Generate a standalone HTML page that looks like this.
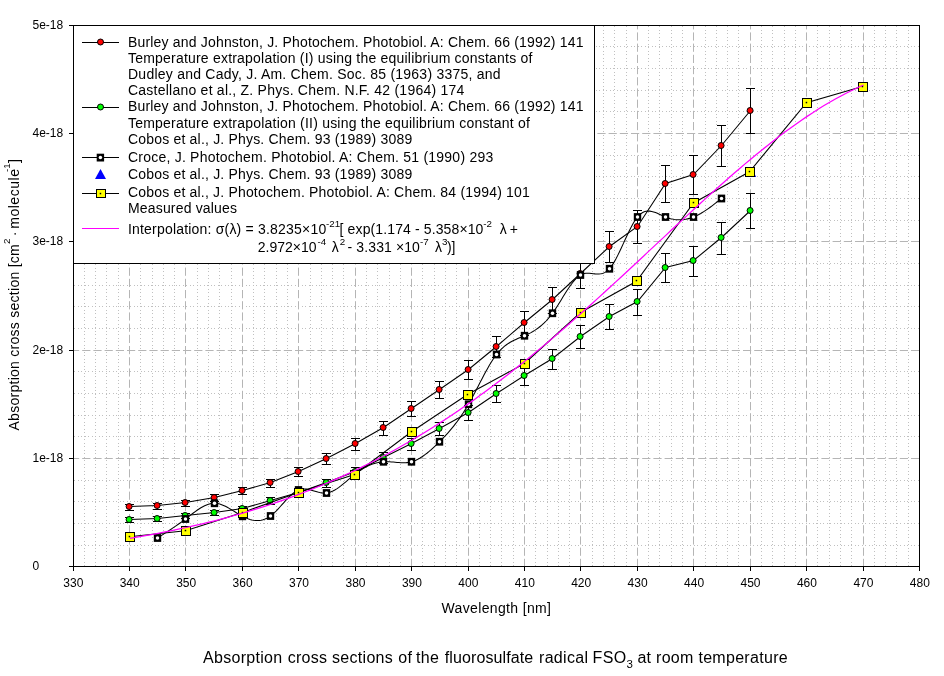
<!DOCTYPE html>
<html lang="en"><head><meta charset="utf-8"><title>Absorption cross sections of the fluorosulfate radical FSO3</title>
<style>html,body{margin:0;padding:0;background:#fff}body{width:944px;height:676px;overflow:hidden}svg{display:block}</style>
</head><body>
<svg width="944" height="676" viewBox="0 0 944 676" font-family="'Liberation Sans', Arial, sans-serif" fill="#000">
<rect width="944" height="676" fill="#fff"/>
<g fill="none" stroke-width="1">
<path d="M84.5 26V566M95.5 26V566M106.5 26V566M118.5 26V566M140.5 26V566M152.5 26V566M163.5 26V566M174.5 26V566M197.5 26V566M208.5 26V566M219.5 26V566M231.5 26V566M253.5 26V566M264.5 26V566M276.5 26V566M287.5 26V566M310.5 26V566M321.5 26V566M332.5 26V566M343.5 26V566M366.5 26V566M377.5 26V566M389.5 26V566M400.5 26V566M422.5 26V566M434.5 26V566M445.5 26V566M456.5 26V566M479.5 26V566M490.5 26V566M501.5 26V566M513.5 26V566M535.5 26V566M547.5 26V566M558.5 26V566M569.5 26V566M592.5 26V566M603.5 26V566M614.5 26V566M626.5 26V566M648.5 26V566M659.5 26V566M671.5 26V566M682.5 26V566M705.5 26V566M716.5 26V566M727.5 26V566M738.5 26V566M761.5 26V566M772.5 26V566M784.5 26V566M795.5 26V566M817.5 26V566M829.5 26V566M840.5 26V566M851.5 26V566M874.5 26V566M885.5 26V566M896.5 26V566M908.5 26V566" stroke="#c0c0c0" stroke-dasharray="1 2 1 3" stroke-dashoffset="3"/>
<path d="M74 545.5H919M74 523.5H919M74 501.5H919M74 480.5H919M74 436.5H919M74 415.5H919M74 393.5H919M74 371.5H919M74 328.5H919M74 306.5H919M74 285.5H919M74 263.5H919M74 220.5H919M74 198.5H919M74 176.5H919M74 155.5H919M74 111.5H919M74 90.5H919M74 68.5H919M74 46.5H919" stroke="#c0c0c0" stroke-dasharray="1 2 1 3" stroke-dashoffset="3"/>
<path d="M129.5 26V566M185.5 26V566M242.5 26V566M298.5 26V566M355.5 26V566M411.5 26V566M468.5 26V566M524.5 26V566M580.5 26V566M637.5 26V566M693.5 26V566M750.5 26V566M806.5 26V566M863.5 26V566" stroke="#b5b5b5" stroke-dasharray="8.2 3" stroke-dashoffset="4.8"/>
<path d="M74 458.5H919M74 350.5H919M74 241.5H919M74 133.5H919" stroke="#b5b5b5" stroke-dasharray="8.2 3" stroke-dashoffset="3"/>
</g>
<g>
<polyline points="129.50,506.50 157.50,505.50 185.50,502.50 214.50,497.50 242.50,490.50 270.50,482.50 298.50,471.50 326.50,458.50 355.50,443.50 383.50,427.50 411.50,408.50 439.50,389.50 468.50,369.50 496.50,346.50 524.50,322.50 552.50,299.50 580.50,273.50 609.50,246.50 637.50,226.50 665.50,183.50 693.50,174.50 721.50,145.50 750.50,110.50" fill="none" stroke="#000" stroke-width="1.05"/>
<path d="M129.5 504.5V510.5M125.0 504.5H134.0M125.0 510.5H134.0M157.5 503.5V509.5M153.0 503.5H162.0M153.0 509.5H162.0M185.5 500.5V506.5M181.0 500.5H190.0M181.0 506.5H190.0M214.5 494.5V501.5M210.0 494.5H219.0M210.0 501.5H219.0M242.5 487.5V494.5M238.0 487.5H247.0M238.0 494.5H247.0M270.5 479.5V487.5M266.0 479.5H275.0M266.0 487.5H275.0M298.5 467.5V476.5M294.0 467.5H303.0M294.0 476.5H303.0M326.5 453.5V464.5M322.0 453.5H331.0M322.0 464.5H331.0M355.5 438.5V450.5M351.0 438.5H360.0M351.0 450.5H360.0M383.5 421.5V435.5M379.0 421.5H388.0M379.0 435.5H388.0M411.5 401.5V416.5M407.0 401.5H416.0M407.0 416.5H416.0M439.5 381.5V398.5M435.0 381.5H444.0M435.0 398.5H444.0M468.5 360.5V379.5M464.0 360.5H473.0M464.0 379.5H473.0M496.5 336.5V357.5M492.0 336.5H501.0M492.0 357.5H501.0M524.5 311.5V335.5M520.0 311.5H529.0M520.0 335.5H529.0M552.5 287.5V313.5M548.0 287.5H557.0M548.0 313.5H557.0M580.5 259.5V288.5M576.0 259.5H585.0M576.0 288.5H585.0M609.5 231.5V262.5M605.0 231.5H614.0M605.0 262.5H614.0M637.5 210.5V243.5M633.0 210.5H642.0M633.0 243.5H642.0M665.5 165.5V202.5M661.0 165.5H670.0M661.0 202.5H670.0M693.5 155.5V194.5M689.0 155.5H698.0M689.0 194.5H698.0M721.5 125.5V166.5M717.0 125.5H726.0M717.0 166.5H726.0M750.5 88.5V133.5M746.0 88.5H755.0M746.0 133.5H755.0" fill="none" stroke="#000" stroke-width="1" shape-rendering="crispEdges"/>
<circle cx="129.1" cy="506.5" r="3" fill="#ff0000" stroke="#000" stroke-width="1"/>
<circle cx="157.1" cy="505.5" r="3" fill="#ff0000" stroke="#000" stroke-width="1"/>
<circle cx="185.1" cy="502.5" r="3" fill="#ff0000" stroke="#000" stroke-width="1"/>
<circle cx="214.1" cy="497.5" r="3" fill="#ff0000" stroke="#000" stroke-width="1"/>
<circle cx="242.1" cy="490.5" r="3" fill="#ff0000" stroke="#000" stroke-width="1"/>
<circle cx="270.1" cy="482.5" r="3" fill="#ff0000" stroke="#000" stroke-width="1"/>
<circle cx="298.1" cy="471.5" r="3" fill="#ff0000" stroke="#000" stroke-width="1"/>
<circle cx="326.1" cy="458.5" r="3" fill="#ff0000" stroke="#000" stroke-width="1"/>
<circle cx="355.1" cy="443.5" r="3" fill="#ff0000" stroke="#000" stroke-width="1"/>
<circle cx="383.1" cy="427.5" r="3" fill="#ff0000" stroke="#000" stroke-width="1"/>
<circle cx="411.1" cy="408.5" r="3" fill="#ff0000" stroke="#000" stroke-width="1"/>
<circle cx="439.1" cy="389.5" r="3" fill="#ff0000" stroke="#000" stroke-width="1"/>
<circle cx="468.1" cy="369.5" r="3" fill="#ff0000" stroke="#000" stroke-width="1"/>
<circle cx="496.1" cy="346.5" r="3" fill="#ff0000" stroke="#000" stroke-width="1"/>
<circle cx="524.1" cy="322.5" r="3" fill="#ff0000" stroke="#000" stroke-width="1"/>
<circle cx="552.1" cy="299.5" r="3" fill="#ff0000" stroke="#000" stroke-width="1"/>
<circle cx="580.1" cy="273.5" r="3" fill="#ff0000" stroke="#000" stroke-width="1"/>
<circle cx="609.1" cy="246.5" r="3" fill="#ff0000" stroke="#000" stroke-width="1"/>
<circle cx="637.1" cy="226.5" r="3" fill="#ff0000" stroke="#000" stroke-width="1"/>
<circle cx="665.1" cy="183.5" r="3" fill="#ff0000" stroke="#000" stroke-width="1"/>
<circle cx="693.1" cy="174.5" r="3" fill="#ff0000" stroke="#000" stroke-width="1"/>
<circle cx="721.1" cy="145.5" r="3" fill="#ff0000" stroke="#000" stroke-width="1"/>
<circle cx="750.1" cy="110.5" r="3" fill="#ff0000" stroke="#000" stroke-width="1"/>
</g>
<g>
<polyline points="129.50,519.50 157.50,518.50 185.50,515.50 214.50,512.50 242.50,508.50 270.50,500.50 298.50,492.50 326.50,482.50 355.50,471.50 383.50,457.50 411.50,443.50 439.50,428.50 468.50,412.50 496.50,393.50 524.50,375.50 552.50,358.50 580.50,336.50 609.50,316.50 637.50,301.50 665.50,267.50 693.50,260.50 721.50,237.50 750.50,210.50" fill="none" stroke="#000" stroke-width="1.05"/>
<path d="M129.5 517.5V522.5M125.0 517.5H134.0M125.0 522.5H134.0M157.5 516.5V521.5M153.0 516.5H162.0M153.0 521.5H162.0M185.5 513.5V518.5M181.0 513.5H190.0M181.0 518.5H190.0M214.5 510.5V515.5M210.0 510.5H219.0M210.0 515.5H219.0M242.5 506.5V512.5M238.0 506.5H247.0M238.0 512.5H247.0M270.5 497.5V504.5M266.0 497.5H275.0M266.0 504.5H275.0M298.5 489.5V496.5M294.0 489.5H303.0M294.0 496.5H303.0M326.5 479.5V487.5M322.0 479.5H331.0M322.0 487.5H331.0M355.5 467.5V476.5M351.0 467.5H360.0M351.0 476.5H360.0M383.5 452.5V463.5M379.0 452.5H388.0M379.0 463.5H388.0M411.5 438.5V450.5M407.0 438.5H416.0M407.0 450.5H416.0M439.5 422.5V435.5M435.0 422.5H444.0M435.0 435.5H444.0M468.5 405.5V420.5M464.0 405.5H473.0M464.0 420.5H473.0M496.5 385.5V402.5M492.0 385.5H501.0M492.0 402.5H501.0M524.5 366.5V385.5M520.0 366.5H529.0M520.0 385.5H529.0M552.5 349.5V369.5M548.0 349.5H557.0M548.0 369.5H557.0M580.5 325.5V348.5M576.0 325.5H585.0M576.0 348.5H585.0M609.5 304.5V329.5M605.0 304.5H614.0M605.0 329.5H614.0M637.5 289.5V315.5M633.0 289.5H642.0M633.0 315.5H642.0M665.5 253.5V282.5M661.0 253.5H670.0M661.0 282.5H670.0M693.5 246.5V276.5M689.0 246.5H698.0M689.0 276.5H698.0M721.5 222.5V254.5M717.0 222.5H726.0M717.0 254.5H726.0M750.5 193.5V228.5M746.0 193.5H755.0M746.0 228.5H755.0" fill="none" stroke="#000" stroke-width="1" shape-rendering="crispEdges"/>
<circle cx="129.1" cy="519.5" r="3" fill="#00ff00" stroke="#000" stroke-width="1"/>
<circle cx="157.1" cy="518.5" r="3" fill="#00ff00" stroke="#000" stroke-width="1"/>
<circle cx="185.1" cy="515.5" r="3" fill="#00ff00" stroke="#000" stroke-width="1"/>
<circle cx="214.1" cy="512.5" r="3" fill="#00ff00" stroke="#000" stroke-width="1"/>
<circle cx="242.1" cy="508.5" r="3" fill="#00ff00" stroke="#000" stroke-width="1"/>
<circle cx="270.1" cy="500.5" r="3" fill="#00ff00" stroke="#000" stroke-width="1"/>
<circle cx="298.1" cy="492.5" r="3" fill="#00ff00" stroke="#000" stroke-width="1"/>
<circle cx="326.1" cy="482.5" r="3" fill="#00ff00" stroke="#000" stroke-width="1"/>
<circle cx="355.1" cy="471.5" r="3" fill="#00ff00" stroke="#000" stroke-width="1"/>
<circle cx="383.1" cy="457.5" r="3" fill="#00ff00" stroke="#000" stroke-width="1"/>
<circle cx="411.1" cy="443.5" r="3" fill="#00ff00" stroke="#000" stroke-width="1"/>
<circle cx="439.1" cy="428.5" r="3" fill="#00ff00" stroke="#000" stroke-width="1"/>
<circle cx="468.1" cy="412.5" r="3" fill="#00ff00" stroke="#000" stroke-width="1"/>
<circle cx="496.1" cy="393.5" r="3" fill="#00ff00" stroke="#000" stroke-width="1"/>
<circle cx="524.1" cy="375.5" r="3" fill="#00ff00" stroke="#000" stroke-width="1"/>
<circle cx="552.1" cy="358.5" r="3" fill="#00ff00" stroke="#000" stroke-width="1"/>
<circle cx="580.1" cy="336.5" r="3" fill="#00ff00" stroke="#000" stroke-width="1"/>
<circle cx="609.1" cy="316.5" r="3" fill="#00ff00" stroke="#000" stroke-width="1"/>
<circle cx="637.1" cy="301.5" r="3" fill="#00ff00" stroke="#000" stroke-width="1"/>
<circle cx="665.1" cy="267.5" r="3" fill="#00ff00" stroke="#000" stroke-width="1"/>
<circle cx="693.1" cy="260.5" r="3" fill="#00ff00" stroke="#000" stroke-width="1"/>
<circle cx="721.1" cy="237.5" r="3" fill="#00ff00" stroke="#000" stroke-width="1"/>
<circle cx="750.1" cy="210.5" r="3" fill="#00ff00" stroke="#000" stroke-width="1"/>
</g>
<g>
<polyline points="157.50,538.00 159.39,536.79 161.27,535.59 163.16,534.37 165.05,533.16 166.93,531.93 168.82,530.69 170.70,529.45 172.59,528.18 174.48,526.90 176.36,525.61 178.25,524.29 180.14,522.95 182.02,521.59 183.91,520.20 185.79,518.78 187.68,517.33 189.57,515.88 191.45,514.42 193.34,512.99 195.23,511.60 197.11,510.26 199.00,508.99 200.88,507.80 202.77,506.72 204.66,505.75 206.54,504.92 208.43,504.24 210.32,503.72 212.20,503.39 214.09,503.25 215.97,503.33 217.86,503.61 219.75,504.06 221.63,504.69 223.52,505.45 225.41,506.33 227.29,507.31 229.18,508.36 231.07,509.48 232.95,510.63 234.84,511.80 236.72,512.97 238.61,514.11 240.50,515.21 242.38,516.24 244.27,517.19 246.16,518.04 248.04,518.78 249.93,519.41 251.81,519.91 253.70,520.28 255.59,520.50 257.47,520.56 259.36,520.47 261.25,520.19 263.13,519.74 265.02,519.08 266.90,518.23 268.79,517.16 270.68,515.87 272.56,514.35 274.45,512.65 276.34,510.79 278.22,508.81 280.11,506.75 281.99,504.64 283.88,502.53 285.77,500.45 287.65,498.44 289.54,496.52 291.43,494.75 293.31,493.16 295.20,491.78 297.09,490.66 298.97,489.82 300.86,489.28 302.74,489.02 304.63,488.98 306.52,489.14 308.40,489.45 310.29,489.88 312.18,490.40 314.06,490.95 315.95,491.51 317.83,492.04 319.72,492.50 321.61,492.86 323.49,493.06 325.38,493.09 327.27,492.89 329.15,492.47 331.04,491.82 332.92,490.99 334.81,489.99 336.70,488.84 338.58,487.56 340.47,486.17 342.36,484.69 344.24,483.15 346.13,481.56 348.02,479.95 349.90,478.34 351.79,476.75 353.67,475.20 355.56,473.70 357.45,472.29 359.33,470.96 361.22,469.71 363.11,468.55 364.99,467.47 366.88,466.49 368.76,465.59 370.65,464.78 372.54,464.06 374.42,463.43 376.31,462.90 378.20,462.46 380.08,462.12 381.97,461.88 383.85,461.73 385.74,461.68 387.63,461.71 389.51,461.80 391.40,461.93 393.29,462.10 395.17,462.27 397.06,462.44 398.94,462.59 400.83,462.70 402.72,462.75 404.60,462.73 406.49,462.62 408.38,462.40 410.26,462.05 412.15,461.57 414.04,460.93 415.92,460.16 417.81,459.25 419.69,458.21 421.58,457.06 423.47,455.79 425.35,454.43 427.24,452.97 429.13,451.43 431.01,449.80 432.90,448.11 434.78,446.36 436.67,444.55 438.56,442.69 440.44,440.80 442.33,438.87 444.22,436.89 446.10,434.86 447.99,432.78 449.87,430.62 451.76,428.40 453.65,426.09 455.53,423.69 457.42,421.20 459.31,418.60 461.19,415.90 463.08,413.08 464.96,410.13 466.85,407.05 468.74,403.84 470.62,400.48 472.51,397.01 474.40,393.46 476.28,389.84 478.17,386.19 480.06,382.53 481.94,378.90 483.83,375.31 485.71,371.80 487.60,368.39 489.49,365.11 491.37,361.98 493.26,359.04 495.15,356.31 497.03,353.82 498.92,351.58 500.80,349.57 502.69,347.77 504.58,346.16 506.46,344.73 508.35,343.44 510.24,342.29 512.12,341.25 514.01,340.30 515.89,339.42 517.78,338.59 519.67,337.79 521.55,337.01 523.44,336.21 525.33,335.38 527.21,334.51 529.10,333.59 530.98,332.59 532.87,331.52 534.76,330.37 536.64,329.11 538.53,327.75 540.42,326.27 542.30,324.66 544.19,322.90 546.08,321.00 547.96,318.94 549.85,316.70 551.73,314.29 553.62,311.68 555.51,308.90 557.39,305.98 559.28,302.98 561.17,299.92 563.05,296.85 564.94,293.81 566.82,290.83 568.71,287.96 570.60,285.25 572.48,282.72 574.37,280.41 576.26,278.38 578.14,276.66 580.03,275.28 581.91,274.29 583.80,273.65 585.69,273.31 587.57,273.20 589.46,273.26 591.35,273.43 593.23,273.65 595.12,273.86 597.01,274.00 598.89,274.01 600.78,273.83 602.66,273.39 604.55,272.65 606.44,271.52 608.32,269.97 610.21,267.92 612.10,265.37 613.98,262.38 615.87,259.03 617.75,255.38 619.64,251.51 621.53,247.48 623.41,243.36 625.30,239.24 627.19,235.17 629.07,231.22 630.96,227.48 632.84,224.00 634.73,220.85 636.62,218.12 638.50,215.86 640.39,214.09 642.28,212.77 644.16,211.85 646.05,211.30 647.93,211.07 649.82,211.12 651.71,211.42 653.59,211.91 655.48,212.57 657.37,213.34 659.25,214.18 661.14,215.06 663.03,215.93 664.91,216.76 666.80,217.50 668.68,218.13 670.57,218.66 672.46,219.09 674.34,219.42 676.23,219.65 678.12,219.77 680.00,219.79 681.89,219.71 683.77,219.53 685.66,219.25 687.55,218.87 689.43,218.38 691.32,217.80 693.21,217.12 695.09,216.33 696.98,215.45 698.86,214.49 700.75,213.44 702.64,212.32 704.52,211.13 706.41,209.88 708.30,208.57 710.18,207.22 712.07,205.83 713.95,204.41 715.84,202.95 717.73,201.48 719.61,199.99 721.50,198.50" fill="none" stroke="#000" stroke-width="1.05"/>
<rect x="153.80" y="534.10" width="7.4" height="7.8" fill="#000"/><circle cx="157.50" cy="538.00" r="1.75" fill="#fff"/>
<rect x="181.80" y="515.10" width="7.4" height="7.8" fill="#000"/><circle cx="185.50" cy="519.00" r="1.75" fill="#fff"/>
<rect x="210.80" y="499.35" width="7.4" height="7.8" fill="#000"/><circle cx="214.50" cy="503.25" r="1.75" fill="#fff"/>
<rect x="238.80" y="512.40" width="7.4" height="7.8" fill="#000"/><circle cx="242.50" cy="516.30" r="1.75" fill="#fff"/>
<rect x="266.80" y="512.10" width="7.4" height="7.8" fill="#000"/><circle cx="270.50" cy="516.00" r="1.75" fill="#fff"/>
<rect x="294.80" y="486.10" width="7.4" height="7.8" fill="#000"/><circle cx="298.50" cy="490.00" r="1.75" fill="#fff"/>
<rect x="322.80" y="489.10" width="7.4" height="7.8" fill="#000"/><circle cx="326.50" cy="493.00" r="1.75" fill="#fff"/>
<rect x="351.80" y="469.85" width="7.4" height="7.8" fill="#000"/><circle cx="355.50" cy="473.75" r="1.75" fill="#fff"/>
<rect x="379.80" y="457.85" width="7.4" height="7.8" fill="#000"/><circle cx="383.50" cy="461.75" r="1.75" fill="#fff"/>
<rect x="407.80" y="457.85" width="7.4" height="7.8" fill="#000"/><circle cx="411.50" cy="461.75" r="1.75" fill="#fff"/>
<rect x="435.80" y="437.85" width="7.4" height="7.8" fill="#000"/><circle cx="439.50" cy="441.75" r="1.75" fill="#fff"/>
<rect x="464.80" y="400.35" width="7.4" height="7.8" fill="#000"/><circle cx="468.50" cy="404.25" r="1.75" fill="#fff"/>
<rect x="492.80" y="350.60" width="7.4" height="7.8" fill="#000"/><circle cx="496.50" cy="354.50" r="1.75" fill="#fff"/>
<rect x="520.80" y="331.85" width="7.4" height="7.8" fill="#000"/><circle cx="524.50" cy="335.75" r="1.75" fill="#fff"/>
<rect x="548.80" y="309.35" width="7.4" height="7.8" fill="#000"/><circle cx="552.50" cy="313.25" r="1.75" fill="#fff"/>
<rect x="576.80" y="271.10" width="7.4" height="7.8" fill="#000"/><circle cx="580.50" cy="275.00" r="1.75" fill="#fff"/>
<rect x="605.80" y="264.85" width="7.4" height="7.8" fill="#000"/><circle cx="609.50" cy="268.75" r="1.75" fill="#fff"/>
<rect x="633.80" y="213.10" width="7.4" height="7.8" fill="#000"/><circle cx="637.50" cy="217.00" r="1.75" fill="#fff"/>
<rect x="661.80" y="213.10" width="7.4" height="7.8" fill="#000"/><circle cx="665.50" cy="217.00" r="1.75" fill="#fff"/>
<rect x="689.80" y="213.10" width="7.4" height="7.8" fill="#000"/><circle cx="693.50" cy="217.00" r="1.75" fill="#fff"/>
<rect x="717.80" y="194.60" width="7.4" height="7.8" fill="#000"/><circle cx="721.50" cy="198.50" r="1.75" fill="#fff"/>
</g>
<path d="M750.7 167.0L756.2 177.0H745.2Z" fill="#0000ff"/>
<g>
<polyline points="129.50,536.75 185.50,530.75 242.50,512.50 298.50,492.50 354.50,474.50 411.50,431.75 467.50,394.50 524.50,363.50 580.50,312.50 636.50,281.25 693.50,203.00 749.50,171.75 806.50,102.75 862.50,86.50" fill="none" stroke="#000" stroke-width="1.05"/>
<rect x="125" y="532" width="10" height="10" fill="#000"/><rect x="126" y="533" width="8" height="8" fill="#ffff00"/><rect x="128.7" y="535.8" width="1.5" height="1.5" fill="#000"/>
<rect x="181" y="526" width="10" height="10" fill="#000"/><rect x="182" y="527" width="8" height="8" fill="#ffff00"/><rect x="184.7" y="529.8" width="1.5" height="1.5" fill="#000"/>
<rect x="238" y="508" width="10" height="10" fill="#000"/><rect x="239" y="509" width="8" height="8" fill="#ffff00"/><rect x="241.7" y="511.8" width="1.5" height="1.5" fill="#000"/>
<rect x="294" y="488" width="10" height="10" fill="#000"/><rect x="295" y="489" width="8" height="8" fill="#ffff00"/><rect x="297.7" y="491.8" width="1.5" height="1.5" fill="#000"/>
<rect x="350" y="470" width="10" height="10" fill="#000"/><rect x="351" y="471" width="8" height="8" fill="#ffff00"/><rect x="353.7" y="473.8" width="1.5" height="1.5" fill="#000"/>
<rect x="407" y="427" width="10" height="10" fill="#000"/><rect x="408" y="428" width="8" height="8" fill="#ffff00"/><rect x="410.7" y="430.8" width="1.5" height="1.5" fill="#000"/>
<rect x="463" y="390" width="10" height="10" fill="#000"/><rect x="464" y="391" width="8" height="8" fill="#ffff00"/><rect x="466.7" y="393.8" width="1.5" height="1.5" fill="#000"/>
<rect x="520" y="359" width="10" height="10" fill="#000"/><rect x="521" y="360" width="8" height="8" fill="#ffff00"/><rect x="523.7" y="362.8" width="1.5" height="1.5" fill="#000"/>
<rect x="576" y="308" width="10" height="10" fill="#000"/><rect x="577" y="309" width="8" height="8" fill="#ffff00"/><rect x="579.7" y="311.8" width="1.5" height="1.5" fill="#000"/>
<rect x="632" y="276" width="10" height="10" fill="#000"/><rect x="633" y="277" width="8" height="8" fill="#ffff00"/><rect x="635.7" y="279.8" width="1.5" height="1.5" fill="#000"/>
<rect x="689" y="198" width="10" height="10" fill="#000"/><rect x="690" y="199" width="8" height="8" fill="#ffff00"/><rect x="692.7" y="201.8" width="1.5" height="1.5" fill="#000"/>
<rect x="745" y="167" width="10" height="10" fill="#000"/><rect x="746" y="168" width="8" height="8" fill="#ffff00"/><rect x="748.7" y="170.8" width="1.5" height="1.5" fill="#000"/>
<rect x="802" y="98" width="10" height="10" fill="#000"/><rect x="803" y="99" width="8" height="8" fill="#ffff00"/><rect x="805.7" y="101.8" width="1.5" height="1.5" fill="#000"/>
<rect x="858" y="82" width="10" height="10" fill="#000"/><rect x="859" y="83" width="8" height="8" fill="#ffff00"/><rect x="861.7" y="85.8" width="1.5" height="1.5" fill="#000"/>
</g>
<polyline points="129.93,538.33 135.58,537.38 141.22,536.41 146.86,535.41 152.51,534.37 158.15,533.31 163.79,532.21 169.44,531.09 175.08,529.92 180.72,528.73 186.37,527.49 192.01,526.23 197.65,524.92 203.30,523.58 208.94,522.20 214.58,520.78 220.23,519.32 225.87,517.82 231.51,516.27 237.16,514.69 242.80,513.06 248.44,511.38 254.09,509.67 259.73,507.90 265.37,506.09 271.02,504.23 276.66,502.32 282.30,500.37 287.95,498.36 293.59,496.30 299.23,494.19 304.88,492.03 310.52,489.81 316.16,487.54 321.81,485.22 327.45,482.83 333.09,480.40 338.74,477.90 344.38,475.35 350.02,472.74 355.67,470.07 361.31,467.34 366.95,464.55 372.60,461.70 378.24,458.79 383.88,455.82 389.53,452.78 395.17,449.68 400.81,446.52 406.46,443.30 412.10,440.01 417.74,436.66 423.39,433.24 429.03,429.77 434.67,426.22 440.32,422.62 445.96,418.94 451.60,415.21 457.25,411.41 462.89,407.55 468.53,403.62 474.18,399.64 479.82,395.59 485.46,391.47 491.11,387.30 496.75,383.07 502.39,378.77 508.04,374.42 513.68,370.01 519.32,365.55 524.97,361.02 530.61,356.45 536.25,351.82 541.90,347.14 547.54,342.40 553.18,337.62 558.83,332.80 564.47,327.92 570.11,323.01 575.76,318.05 581.40,313.05 587.04,308.02 592.69,302.95 598.33,297.85 603.97,292.71 609.62,287.56 615.26,282.37 620.90,277.17 626.55,271.94 632.19,266.70 637.83,261.45 643.48,256.18 649.12,250.91 654.76,245.64 660.41,240.36 666.05,235.09 671.69,229.83 677.34,224.58 682.98,219.34 688.62,214.13 694.27,208.93 699.91,203.77 705.55,198.63 711.20,193.53 716.84,188.46 722.48,183.45 728.13,178.48 733.77,173.56 739.41,168.69 745.06,163.89 750.70,159.16 756.34,154.49 761.99,149.90 767.63,145.39 773.27,140.96 778.92,136.62 784.56,132.37 790.20,128.22 795.85,124.17 801.49,120.22 807.13,116.39 812.78,112.67 818.42,109.07 824.06,105.59 829.71,102.24 835.35,99.02 840.99,95.94 846.64,93.00 852.28,90.19 857.92,87.54 863.57,85.04" fill="none" stroke="#ff00ff" stroke-width="1.25"/>
<rect x="73.5" y="25.5" width="521" height="238" fill="#fff" stroke="#000" stroke-width="1"/>
<g fill="none" stroke="#000" stroke-width="1" shape-rendering="crispEdges">
<path d="M73.5 25.5H919.5V566.5H73.5Z"/>
<path d="M69 566.5H73.5M69 458.5H73.5M69 350.5H73.5M69 241.5H73.5M69 133.5H73.5M69 25.5H73.5M73.5 566.5V571M129.5 566.5V571M185.5 566.5V571M242.5 566.5V571M298.5 566.5V571M355.5 566.5V571M411.5 566.5V571M468.5 566.5V571M524.5 566.5V571M580.5 566.5V571M637.5 566.5V571M693.5 566.5V571M750.5 566.5V571M806.5 566.5V571M863.5 566.5V571M919.5 566.5V571"/>
</g>
<g font-size="12px">
<text x="32.5" y="570.0">0</text>
<text x="32.5" y="461.8">1e-18</text>
<text x="32.5" y="353.6">2e-18</text>
<text x="32.5" y="245.4">3e-18</text>
<text x="32.5" y="137.2">4e-18</text>
<text x="32.5" y="29.0">5e-18</text>
<text x="73.3" y="587" text-anchor="middle">330</text>
<text x="129.7" y="587" text-anchor="middle">340</text>
<text x="186.2" y="587" text-anchor="middle">350</text>
<text x="242.6" y="587" text-anchor="middle">360</text>
<text x="299.0" y="587" text-anchor="middle">370</text>
<text x="355.5" y="587" text-anchor="middle">380</text>
<text x="411.9" y="587" text-anchor="middle">390</text>
<text x="468.3" y="587" text-anchor="middle">400</text>
<text x="524.8" y="587" text-anchor="middle">410</text>
<text x="581.2" y="587" text-anchor="middle">420</text>
<text x="637.6" y="587" text-anchor="middle">430</text>
<text x="694.1" y="587" text-anchor="middle">440</text>
<text x="750.5" y="587" text-anchor="middle">450</text>
<text x="806.9" y="587" text-anchor="middle">460</text>
<text x="863.4" y="587" text-anchor="middle">470</text>
<text x="919.8" y="587" text-anchor="middle">480</text>
</g>
<g shape-rendering="crispEdges" stroke="#000" stroke-width="1" fill="none">
<path d="M82 42.5H119M82 107.5H119M82 157.5H119M82 193.5H119"/>
<path d="M82 228.5H119" stroke="#ff00ff"/>
</g>
<circle cx="100.5" cy="42" r="3" fill="#ff0000" stroke="#000"/>
<circle cx="100.5" cy="107" r="3" fill="#00ff00" stroke="#000"/>
<rect x="96.70" y="153.70" width="7.4" height="7.8" fill="#000"/><circle cx="100.40" cy="157.60" r="1.75" fill="#fff"/>
<path d="M100.5 169.0L106.0 179.0H95.0Z" fill="#0000ff"/>
<rect x="96" y="189" width="10" height="9" fill="#000"/><rect x="97" y="190" width="8" height="7" fill="#ffff00"/><rect x="99.7" y="192.8" width="1.5" height="1.5" fill="#000"/>
<g font-size="14px">
<text x="128" y="46.5" textLength="455.5" lengthAdjust="spacing">Burley and Johnston, J. Photochem. Photobiol. A: Chem. 66 (1992) 141</text>
<text x="128" y="62.5" textLength="404.3" lengthAdjust="spacing">Temperature extrapolation (I) using the equilibrium constants of</text>
<text x="128" y="78.5" textLength="372.6" lengthAdjust="spacing">Dudley and Cady, J. Am. Chem. Soc. 85 (1963) 3375, and</text>
<text x="128" y="94.5" textLength="336.3" lengthAdjust="spacing">Castellano et al., Z. Phys. Chem. N.F. 42 (1964) 174</text>
<text x="128" y="111" textLength="455.5" lengthAdjust="spacing">Burley and Johnston, J. Photochem. Photobiol. A: Chem. 66 (1992) 141</text>
<text x="128" y="128" textLength="401.8" lengthAdjust="spacing">Temperature extrapolation (II) using the equilibrium constant of</text>
<text x="128" y="144" textLength="284.2" lengthAdjust="spacing">Cobos et al., J. Phys. Chem. 93 (1989) 3089</text>
<text x="128" y="161.5" textLength="365.2" lengthAdjust="spacing">Croce, J. Photochem. Photobiol. A: Chem. 51 (1990) 293</text>
<text x="128" y="179" textLength="284.2" lengthAdjust="spacing">Cobos et al., J. Phys. Chem. 93 (1989) 3089</text>
<text x="128" y="197" textLength="401.8" lengthAdjust="spacing">Cobos et al., J. Photochem. Photobiol. A: Chem. 84 (1994) 101</text>
<text x="128" y="213" textLength="109.0" lengthAdjust="spacing">Measured values</text>
<text x="127.9" y="233.6" textLength="198.3" lengthAdjust="spacing">Interpolation: σ(λ) = 3.8235×10</text>
<text x="326.0" y="226.7" font-size="9.8px">-21</text>
<text x="339.6" y="233.6" textLength="143.8" lengthAdjust="spacing">[ exp(1.174 - 5.358×10</text>
<text x="483.3" y="226.7" font-size="9.8px">-2</text>
<text x="499.7" y="233.6" textLength="18.3" lengthAdjust="spacing">λ +</text>
<text x="257.8" y="251.5" textLength="58.8" lengthAdjust="spacing">2.972×10</text>
<text x="317.6" y="244.6" font-size="9.8px">-4</text>
<text x="331.7" y="251.5">λ</text>
<text x="339.7" y="244.6" font-size="9.8px">2</text>
<text x="347.6" y="251.5" textLength="72.3" lengthAdjust="spacing">- 3.331 ×10</text>
<text x="420.0" y="244.6" font-size="9.8px">-7</text>
<text x="435.0" y="251.5">λ</text>
<text x="442.0" y="244.6" font-size="9.8px">3</text>
<text x="447.0" y="251.5" textLength="8.3" lengthAdjust="spacing">)]</text>
</g>
<g font-size="14px">
<text x="441.5" y="613" textLength="109.5" lengthAdjust="spacing">Wavelength [nm]</text>
<g transform="translate(19,430.5) rotate(-90)">
<text x="0" y="0" textLength="186.3" lengthAdjust="spacing">Absorption cross section [cm</text>
<text x="186.6" y="-8.6" font-size="9.8px">2</text>
<text x="194.3" y="0">·</text>
<text x="201.7" y="0" textLength="59.8" lengthAdjust="spacing">molecule</text>
<text x="258.6" y="-8.8" font-size="9.8px">-1</text>
<text x="267.6" y="0">]</text>
</g>
</g>
<g font-size="16px">
<text y="663" letter-spacing="0.3"><tspan x="203.0">Absorption</tspan> <tspan x="287.7">cross</tspan> <tspan x="332.0">sections</tspan> <tspan x="398.2">of</tspan> <tspan x="416.0">the</tspan> <tspan x="444.8" letter-spacing="0.1">fluorosulfate</tspan> <tspan x="539.0">radical</tspan> <tspan x="592.6">FSO</tspan><tspan x="626.4" y="668" font-size="11.5px">3</tspan> <tspan x="637.4" y="663">at</tspan> <tspan x="656.0" y="663">room</tspan> <tspan x="698.4" y="663">temperature</tspan></text>
</g>
</svg>
</body></html>
